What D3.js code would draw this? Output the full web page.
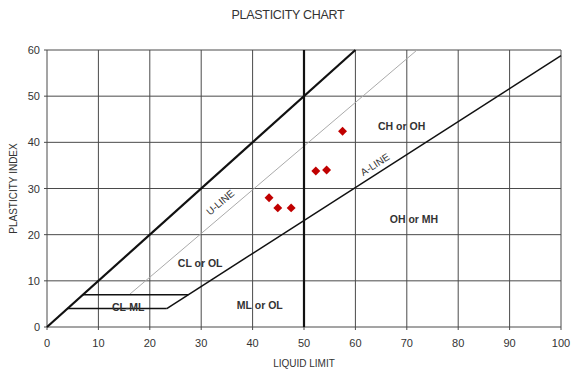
<!DOCTYPE html>
<html>
<head>
<meta charset="utf-8">
<script src="https://cdn.jsdelivr.net/npm/d3@7"></script>
<style>
  body { margin: 0; background: #fff; }
  text { font-family: "Liberation Sans", Arial, sans-serif; fill: #333; }
</style>
</head>
<body>
<div id="chart"></div>
<script>
// samples: liquid limit / plasticity index
const liquidLimit = [57.5, 52.3, 54.4, 43.2, 44.9, 47.5];
const plasticityIndex = [42.4, 33.8, 34.0, 28.0, 25.8, 25.8];

const xTicks = [0, 10, 20, 30, 40, 50, 60, 70, 80, 90, 100];
const yTicks = [0, 10, 20, 30, 40, 50, 60];

// chart boundary lines, [LL, PI] pairs
const limitLine = [[0, 0], [60, 60]];
const uLine = [[16, 7], [72, 60]];
const aLine = [[23.3, 4], [100, 58.8]];
const llDivide = [[50, 0], [50, 60]];
const clmlLower = [[4, 4], [23.3, 4]];
const clmlUpper = [[7, 7], [27.5, 7]];

const zoneLabels = [
  { text: "CH or OH", ll: 69, pi: 43.6 },
  { text: "OH or MH", ll: 71.4, pi: 23.3 },
  { text: "ML or OL", ll: 41.4, pi: 4.7 },
  { text: "CL or OL", ll: 29.8, pi: 13.9 },
  { text: "CL-ML", ll: 15.8, pi: 4.4 }
];

const width = 571, height = 372;
const margin = { top: 50, right: 10, bottom: 45, left: 47 };

const svg = d3.select("#chart").append("svg")
  .attr("width", width)
  .attr("height", height);

const x = d3.scaleLinear().domain([0, 100]).range([margin.left, 561]);
const y = d3.scaleLinear().domain([0, 60]).range([327, margin.top]);

// grid
svg.append("g").selectAll("line.vg")
  .data(xTicks).enter().append("line")
  .attr("x1", d => x(d)).attr("x2", d => x(d))
  .attr("y1", y(0) + 3).attr("y2", y(60))
  .style("stroke", "#4a4a4a").style("stroke-width", 1);

svg.append("g").selectAll("line.hg")
  .data(yTicks).enter().append("line")
  .attr("x1", x(0) - 3).attr("x2", x(100))
  .attr("y1", d => y(d)).attr("y2", d => y(d))
  .style("stroke", "#4a4a4a").style("stroke-width", 1);

// tick labels
svg.append("g").selectAll("text")
  .data(xTicks).enter().append("text")
  .attr("x", d => x(d)).attr("y", y(0) + 20)
  .attr("text-anchor", "middle")
  .style("font-size", "11px")
  .text(d => d);

svg.append("g").selectAll("text")
  .data(yTicks).enter().append("text")
  .attr("x", x(0) - 7).attr("y", d => y(d) + 4)
  .attr("text-anchor", "end")
  .style("font-size", "11px")
  .text(d => d);

const line = d3.line().x(d => x(d[0])).y(d => y(d[1]));

function drawLine(pts, color, w) {
  svg.append("path")
    .attr("d", line(pts))
    .attr("fill", "none")
    .style("stroke", color)
    .style("stroke-width", w);
}

drawLine(uLine, "#aaa", 1);
drawLine(limitLine, "#111", 2.2);
drawLine(llDivide, "#111", 2.2);
drawLine(aLine, "#111", 1.5);
drawLine(clmlLower, "#111", 1.5);
drawLine(clmlUpper, "#111", 1.5);

// rotated line labels
function angleOf(pts) {
  const dx = x(pts[1][0]) - x(pts[0][0]);
  const dy = y(pts[1][1]) - y(pts[0][1]);
  return Math.atan2(dy, dx) * 180 / Math.PI;
}

svg.append("text")
  .attr("transform", `translate(${x(33.7)},${y(27.0)}) rotate(${angleOf(uLine)})`)
  .attr("text-anchor", "middle")
  .attr("dy", "0.35em")
  .style("font-size", "10px")
  .text("U-LINE");

svg.append("text")
  .attr("transform", `translate(${x(63.8)},${y(35.2)}) rotate(${angleOf(aLine)})`)
  .attr("text-anchor", "middle")
  .attr("dy", "0.35em")
  .style("font-size", "10px")
  .text("A-LINE");

// zone labels
svg.append("g").selectAll("text")
  .data(zoneLabels).enter().append("text")
  .attr("x", d => x(d.ll)).attr("y", d => y(d.pi) + 4)
  .attr("text-anchor", "middle")
  .style("font-size", "10.5px")
  .style("font-weight", "bold")
  .text(d => d.text);

// sample points, square turned 45 degrees
const diamond = d3.symbol().type(d3.symbolSquare).size(40);
svg.append("g").selectAll("path")
  .data(liquidLimit).enter().append("path")
  .attr("d", diamond)
  .attr("transform", (d, i) => `translate(${x(d)},${y(plasticityIndex[i])}) rotate(45)`)
  .attr("fill", "#c00000");

// titles
svg.append("text")
  .attr("x", 288).attr("y", 19)
  .attr("text-anchor", "middle")
  .style("font-size", "12.5px")
  .style("letter-spacing", "-0.3px")
  .text("PLASTICITY CHART");

svg.append("text")
  .attr("x", 304).attr("y", 367)
  .attr("text-anchor", "middle")
  .style("font-size", "10px")
  .text("LIQUID LIMIT");

svg.append("text")
  .attr("transform", `translate(17,${y(30)}) rotate(-90)`)
  .attr("text-anchor", "middle")
  .style("font-size", "10px")
  .text("PLASTICITY INDEX");
</script>
</body>
</html>
